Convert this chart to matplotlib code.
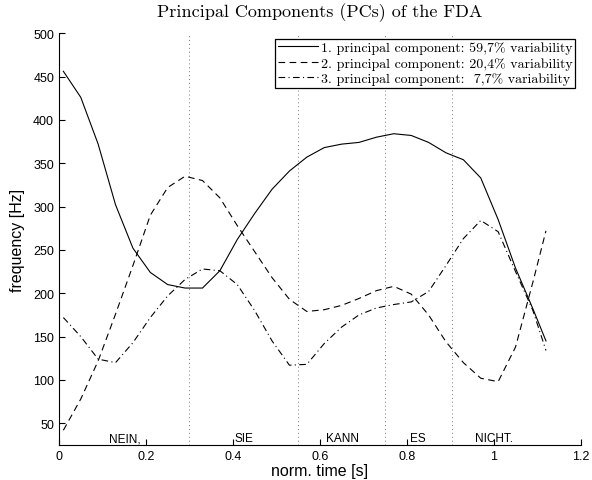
import matplotlib
matplotlib.use("Agg")
import matplotlib.pyplot as plt

# ---- data ----
t = [0.01, 0.05, 0.09, 0.13, 0.17, 0.21, 0.25, 0.29, 0.33, 0.37, 0.41, 0.45,
     0.49, 0.53, 0.57, 0.61, 0.65, 0.69, 0.73, 0.77, 0.81, 0.85, 0.89, 0.93,
     0.97, 1.01, 1.05, 1.09, 1.12]
pc1 = [456, 426, 372, 302, 252, 224, 210, 206, 206, 226, 262, 292,
       320, 341, 357, 368, 372, 374, 380, 384, 382, 374, 362, 354,
       333, 285, 229, 182, 145]
pc2 = [42, 78, 122, 176, 232, 290, 322, 335, 330, 310, 278, 248,
       218, 193, 179, 181, 186, 194, 203, 208, 199, 175, 144, 120,
       102, 98, 138, 213, 272]
pc3 = [172, 150, 124, 120, 143, 172, 197, 216, 228, 226, 210, 180,
       145, 117, 118, 142, 161, 175, 183, 187, 190, 202, 232, 263,
       284, 271, 225, 180, 134]

legend_labels = ["1. principal component: 59,7% variability",
                 "2. principal component: 20,4% variability",
                 "3. principal component:  7,7% variability"]

boundaries = [0.30, 0.55, 0.75, 0.905]
words = ["NEIN,", "SIE", "KANN", "ES", "NICHT."]
word_pos = [0.114, 0.404, 0.613, 0.807, 0.956]
word_y = 29.5

xticks = [0, 0.2, 0.4, 0.6, 0.8, 1.0, 1.2]
xticklabels = ["0", "0.2", "0.4", "0.6", "0.8", "1", "1.2"]
yticks = [50, 100, 150, 200, 250, 300, 350, 400, 450, 500]

plt.rcParams['font.family'] = ['Liberation Sans', 'DejaVu Sans']

fig = plt.figure(figsize=(5.92, 4.81), dpi=100)
ax = fig.add_axes([0.0997, 0.0728, 0.8813, 0.8562])

for b in boundaries:
    ax.axvline(b, color='#777777', linestyle=(0, (1, 3)), linewidth=0.7, zorder=1)

l1, = ax.plot(t, pc1, color='black', linestyle='-', linewidth=0.8)
l2, = ax.plot(t, pc2, color='black', linestyle=(0, (6, 4)), linewidth=0.8)
l3, = ax.plot(t, pc3, color='black', linestyle=(0, (6, 3, 1, 3)), linewidth=0.8)

for w, p in zip(words, word_pos):
    ax.text(p, word_y, w, fontsize=8.5, ha='left', va='baseline')

ax.set_xlim(0, 1.2)
ax.set_ylim(25, 500)
ax.set_xticks(xticks)
ax.set_xticklabels(xticklabels)
ax.set_yticks(yticks)
ax.tick_params(direction='in', length=4, width=0.8, labelsize=9, top=False, right=False)
for side in ['top', 'right']:
    ax.spines[side].set_visible(False)
for side in ['left', 'bottom']:
    ax.spines[side].set_linewidth(0.8)

ax.set_xlabel("norm. time [s]", fontsize=11.5, labelpad=1)
ax.set_ylabel("frequency [Hz]", fontsize=11.5, labelpad=6)
ax.set_title("Principal Components (PCs) of the FDA", fontsize=13,
             family='cmr10', pad=12)

leg = ax.legend([l1, l2, l3], legend_labels, loc='upper right',
                prop={'family': 'cmr10', 'size': 10}, frameon=True, fancybox=False,
                edgecolor='black', framealpha=1, borderaxespad=0.4,
                handlelength=2.9, handletextpad=0.2, borderpad=0.2,
                labelspacing=0.2)
leg.get_frame().set_linewidth(0.9)

fig.savefig("out.png", dpi=100)
